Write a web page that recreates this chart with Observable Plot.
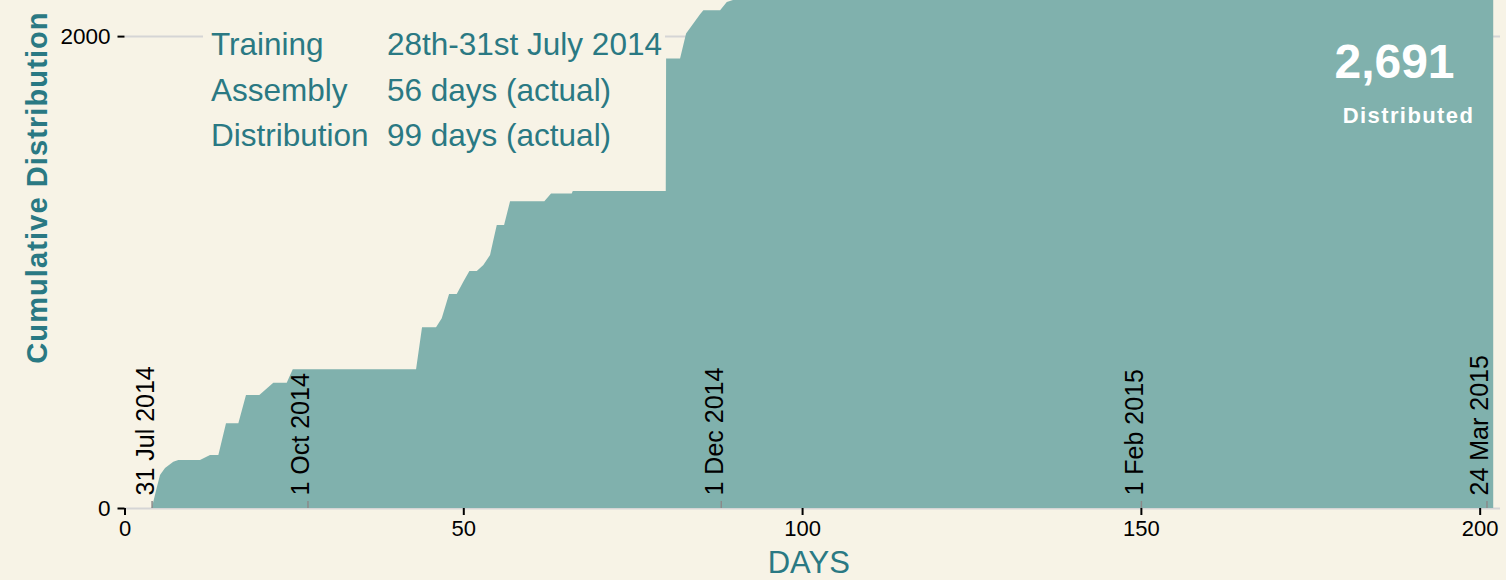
<!DOCTYPE html>
<html>
<head>
<meta charset="utf-8">
<script src="https://cdn.jsdelivr.net/npm/d3@7"></script>
<script src="https://cdn.jsdelivr.net/npm/@observablehq/plot@0.6"></script>
<style>
  html, body { margin: 0; padding: 0; background: #F7F3E6; }
  #chart { position: relative; width: 1506px; height: 580px; font-family: "Liberation Sans", Arial, sans-serif; }
  #info {
    position: absolute; left: 203px; top: 14px; width: 454px;
    padding: 8px 0 8px 8px; background: #F7F3E6; color: #2A7983;
    font-size: 31.5px; line-height: 45.5px;
    display: grid; grid-template-columns: 176px auto;
  }
  #info div { white-space: nowrap; }
</style>
</head>
<body>
<div id="chart"><div id="info"></div></div>
<script>
// ---- data ----
const days = [4.0, 4.25, 4.73, 5.24, 5.98, 7.2, 7.94, 11.14, 12.62, 13.85, 14.98, 16.8, 17.93, 19.9, 21.96, 23.94, 24.83,
  43.03, 43.91, 45.98, 46.82, 47.9, 49.03, 50.0, 50.9, 51.99, 52.96, 53.95, 54.44, 54.94, 56.02, 56.9, 61.96, 62.95,
  66.0, 66.16, 79.88, 79.93, 81.99, 82.88, 84.94, 85.43, 87.9, 88.89, 89.8, 91, 95, 100, 110, 120, 202];
const cumulative = [0, 27, 83, 140, 169, 196, 203, 203, 225, 225, 359, 359, 479, 479, 531, 531, 588,
  588, 766, 766, 804, 907, 907, 959, 1004, 1004, 1030, 1072, 1136, 1199, 1199, 1300, 1300, 1333,
  1333, 1343, 1343, 1905, 1905, 2011, 2093, 2110, 2110, 2144, 2153, 2200, 2400, 2550, 2650, 2691, 2691];
const totalDistributed = 2691;
const dateLabels = ["31 Jul 2014", "1 Oct 2014", "1 Dec 2014", "1 Feb 2015", "24 Mar 2015"];
const dateDays = [4, 27, 88, 150, 201];
const infoLabels = ["Training", "Assembly", "Distribution"];
const infoValues = ["28th-31st July 2014", "56 days (actual)", "99 days (actual)"];
const xTicks = [0, 50, 100, 150, 200];
const yTicks = [0, 2000];

// ---- build tables ----
const series = days.map((d, i) => ({day: d, value: cumulative[i]}));
const dates = dateDays.map((d, i) => ({day: d, label: dateLabels[i]}));

const teal = "#2A7983";
const areaFill = "#80B1AD";
const font = "'Liberation Sans', Arial, sans-serif";

const plot = Plot.plot({
  width: 1506,
  height: 580,
  marginTop: 0,
  marginBottom: 72,
  marginLeft: 124.5,
  marginRight: 6,
  style: {background: "transparent", fontFamily: font, color: "black", overflow: "hidden"},
  x: {domain: [0, 203]},
  y: {domain: [0, 2153]},
  marks: [
    Plot.ruleY(yTicks, {stroke: "#d5d5d5", strokeWidth: 2}),
    Plot.areaY(series, {x: "day", y: "value", fill: areaFill, clip: true}),
    Plot.ruleX(dates, {x: "day", y1: 0, y2: 30, stroke: "#8a8a8a", strokeWidth: 1.5}),
    Plot.text(dates, {x: "day", text: "label", frameAnchor: "bottom", rotate: -90,
      textAnchor: "start", lineAnchor: "bottom", dy: -13, dx: 1.5, fontSize: 25, fill: "black"}),
    Plot.axisX({ticks: xTicks, tickFormat: d3.format("d"), tickSize: 7, tickPadding: 5, fontSize: 22, strokeWidth: 2, label: null}),
    Plot.axisY({ticks: yTicks, tickFormat: d3.format("d"), tickSize: 7, tickPadding: 7.5, fontSize: 22.5, strokeWidth: 2, label: null}),
    Plot.text(["DAYS"], {frameAnchor: "bottom", lineAnchor: "bottom", dy: 64, dx: -4,
      fontSize: 31, fill: teal}),
    Plot.text(["Cumulative Distribution"], {frameAnchor: "left", rotate: -90, textAnchor: "middle",
      lineAnchor: "bottom", dx: -78.5, dy: -67, fontSize: 29, fontWeight: "bold", fill: teal}),
    Plot.text([d3.format(",")(totalDistributed)], {frameAnchor: "top-right", textAnchor: "middle", lineAnchor: "bottom",
      dx: -106, dy: 77, fontSize: 48, fontWeight: "bold", fill: "white"}),
    Plot.text(["Distributed"], {frameAnchor: "top-right", textAnchor: "middle", lineAnchor: "bottom",
      dx: -92, dy: 122, fontSize: 22, fontWeight: "bold", fill: "white"})
  ]
});

d3.select(plot).selectAll("text")
  .filter(function() { return this.textContent === "Cumulative Distribution"; })
  .style("letter-spacing", "1.1px");
d3.select(plot).selectAll("text")
  .filter(function() { return this.textContent === "Distributed"; })
  .style("letter-spacing", "1.4px");

const chart = document.getElementById("chart");
chart.insertBefore(plot, chart.firstChild);

const info = d3.select("#info");
infoLabels.forEach((l, i) => {
  info.append("div").text(l);
  info.append("div").text(infoValues[i]);
});
</script>
</body>
</html>
